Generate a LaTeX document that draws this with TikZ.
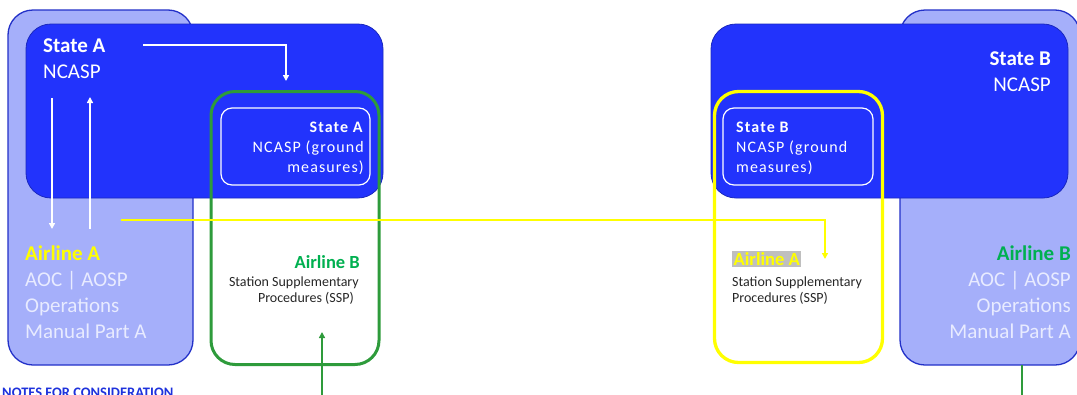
\documentclass[tikz,border=0pt]{standalone}
\usepackage{fontspec}
\setmainfont{Carlito}
\newfontfamily\spacedfont[LetterSpace=7]{Carlito}
\usetikzlibrary{arrows.meta}
\definecolor{darkfill}{RGB}{34,51,252}
\definecolor{darkedge}{RGB}{26,40,190}
\definecolor{lightfill}{RGB}{165,175,250}
\definecolor{lightedge}{RGB}{34,48,200}
\definecolor{lighttext}{RGB}{232,235,255}
\definecolor{boxgreen}{RGB}{46,155,59}
\definecolor{txtgreen}{RGB}{0,176,80}
\definecolor{yel}{RGB}{255,255,0}
\definecolor{hlgray}{RGB}{191,191,191}
\definecolor{notesblue}{RGB}{30,50,220}
\tikzset{
  lightbox/.style={draw=lightedge,line width=1.3pt,fill=lightfill,rounded corners=25pt,inner sep=0pt},
  darkbox/.style={draw=darkedge,line width=0.8pt,fill=darkfill,rounded corners=25pt,inner sep=0pt},
  greenbox/.style={draw=boxgreen,line width=3pt,rounded corners=24pt,inner sep=0pt},
  yelbox/.style={draw=yel,line width=3.3pt,rounded corners=24pt,inner sep=0pt},
  innerbox/.style={draw=white,line width=1.2pt,rounded corners=11pt,inner sep=0pt},
  bigtxt/.style={font=\fontsize{21}{26}\selectfont,text=lighttext,inner sep=0pt},
  innertxt/.style={font=\spacedfont\fontsize{16}{20}\selectfont,text=white,inner sep=0pt},
  ssptxt/.style={font=\fontsize{14}{16}\selectfont,text=black!85,inner sep=0pt},
  smalllabel/.style={font=\fontsize{18.5}{20}\selectfont\bfseries,inner sep=0pt},
  warrow/.style={draw=white,line width=1.8pt,-{Triangle[width=6pt,length=6pt]}},
  yarrow/.style={draw=yel,line width=2pt,-{Triangle[width=6pt,length=6pt]}},
  garrow/.style={draw=boxgreen,line width=2pt,-{Triangle[width=6pt,length=6pt]}},
  gline/.style={draw=boxgreen,line width=2pt},
}
\begin{document}
\begin{tikzpicture}[x=1pt,y=-1pt]
\useasboundingbox (0,0) rectangle (1077,394);
\clip (0,0) rectangle (1077,394);
% ---------- left group ----------
\node[lightbox,minimum width=185pt,minimum height=355pt] (lightA) at (100.5,187.5) {};
\node[darkbox,minimum width=357pt,minimum height=174pt] (darkA) at (204.5,111) {};
\node[greenbox,minimum width=168pt,minimum height=273pt] (greenA) at (295,228) {};
\node[innerbox,minimum width=149pt,minimum height=77pt] (innerA) at (295.5,146.5) {};
\node[bigtxt,text=white,anchor=base west,align=left] (stateA) at (43,78) {\textbf{State A}\\NCASP};
\node[innertxt,anchor=base east,align=right] (innerAtxt) at (364,172) {\textbf{State A}\\NCASP (ground\\measures)};
\node[bigtxt,anchor=base west,align=left] (airlineA) at (25,338) {\textcolor{yel}{\textbf{Airline A}}\\AOC | AOSP\\Operations\\Manual Part A};
\node[smalllabel,text=txtgreen,anchor=base east] (airlineBsmall) at (360,268) {Airline B};
\node[ssptxt,anchor=base east,align=right] (sspA) at (359,302) {Station Supplementary\\Procedures (SSP)\hspace*{5pt}};
\coordinate (wA1) at (143,45);
\coordinate (wA2) at (286,45);
\coordinate (wA3) at (286,81);
\draw[warrow] (wA1) -- (wA2) -- (wA3);
\coordinate (d1) at (52,98);
\coordinate (d2) at (52,229);
\draw[warrow] (d1) -- (d2);
\coordinate (u1) at (90,229);
\coordinate (u2) at (90,97);
\draw[warrow] (u1) -- (u2);
\coordinate (gA1) at (322,396);
\coordinate (gA2) at (322,332);
\draw[garrow] (gA1) -- (gA2);
\node[font=\fontsize{14.5}{16}\selectfont\bfseries,text=notesblue,inner sep=0pt,anchor=base west] (notes) at (2,397) {NOTES FOR CONSIDERATION};
% ---------- right group ----------
\node[lightbox,minimum width=180pt,minimum height=355pt] (lightB) at (990,187.5) {};
\node[darkbox,minimum width=357pt,minimum height=174pt] (darkB) at (889.5,111) {};
\node[yelbox,minimum width=168pt,minimum height=271pt] (yelB) at (798.5,227) {};
\node[innerbox,minimum width=150pt,minimum height=77pt] (innerB) at (798,146.5) {};
\node[bigtxt,text=white,anchor=base east,align=right] (stateB) at (1051,91) {\textbf{State B}\\NCASP};
\node[innertxt,anchor=base west,align=left] (innerBtxt) at (736,172) {\textbf{State B}\\NCASP (ground\\measures)};
\node[smalllabel,text=yel,fill=hlgray,inner sep=1.5pt,anchor=base west] (airlineAsmall) at (732,265) {Airline A};
\node[ssptxt,anchor=base west,align=left] (sspB) at (732,302) {Station Supplementary\\Procedures (SSP)};
\node[bigtxt,anchor=base east,align=right] (airlineB) at (1071,338) {\textcolor{txtgreen}{\textbf{Airline B}}\\AOC | AOSP\\Operations\\Manual Part A};
\coordinate (y1) at (121,220);
\coordinate (y2) at (825,220);
\coordinate (y3) at (825,259);
\draw[yarrow] (y1) -- (y2) -- (y3);
\coordinate (gB1) at (1022,365);
\coordinate (gB2) at (1022,396);
\draw[gline] (gB1) -- (gB2);
\end{tikzpicture}
\end{document}
